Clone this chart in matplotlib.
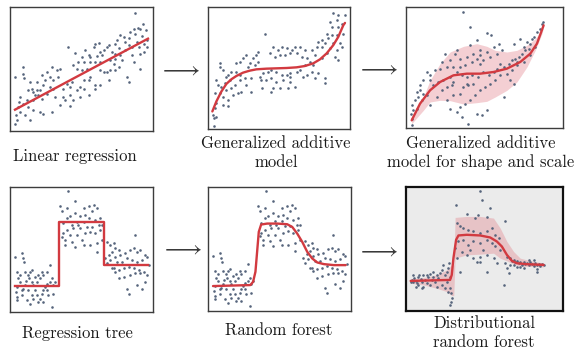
import matplotlib
matplotlib.use("Agg")
import matplotlib.pyplot as plt

plt.rcParams['mathtext.fontset'] = 'cm'
plt.rcParams['font.family'] = ['cmr10', 'DejaVu Serif']
plt.rcParams['axes.unicode_minus'] = False

# ---------------- Panel 1: linear regression ----------------
lin_x = [375,398,382,370,390,408,360,375,330,340,355,395,410,320,345,380,400,315,355,385,410,325,295,265,255,290,250,280,270,305,
         315,225,235,240,260,275,330,365,390,402,195,215,240,220,255,270,300,315,370,173,205,190,200,215,230,270,280,290,300,315,
         325,390,350,355,295,240,253,270,255,235,220,210,185,170,180,160,150,140,125,145,130,120,110,95,105,100,80,60,38,40,
         42,15,65,55,70,80,90,85,95,110,130,135,160,165,180,190,150,125,100,70,90,50,30,28,40,55,70,25,18,22,
         15,60,30,45,210,235,180,200,220,310,335,120,75,345,365]
lin_y = [354,320,310,307,307,304,297,292,287,282,280,284,272,272,267,267,262,262,257,252,252,250,257,264,262,252,252,244,237,237,
         232,242,227,222,224,227,227,227,232,237,234,222,207,207,207,207,212,217,207,252,207,197,187,182,187,182,177,177,182,182,
         192,187,162,147,152,162,137,137,127,152,152,132,147,142,132,127,187,182,192,162,152,162,177,167,152,137,147,147,192,172,
         160,162,127,122,117,122,122,107,97,112,127,102,102,92,107,92,77,57,52,62,57,92,102,87,82,72,92,72,47,32,
         22,32,57,47,102,107,74,122,127,202,212,132,107,242,252]
lin_fit_x = [15, 413]
lin_fit_y = [64, 277]

# ---------------- Panel 2: generalized additive model ----------------
gam_x = [375,390,410,385,365,400,390,370,355,370,385,405,360,340,330,350,375,395,340,325,365,385,400,355,380,390,340,320,310,290,
         275,260,250,235,220,210,195,185,170,200,215,230,245,265,280,295,305,315,290,275,265,245,235,220,205,190,180,165,155,160,
         175,190,205,225,245,260,240,215,195,190,163,245,295,310,330,350,350,320,285,150,145,135,125,115,105,95,85,120,140,150,
         130,110,95,85,70,60,65,53,45,35,35,25,30,40,50,55,70,80,90,100,75,60,45,35,20,25,45,60,20,15,
         17,23,17,95,115,130]
gam_y = [350,343,343,328,323,318,308,308,288,283,283,288,273,268,263,258,260,258,248,248,243,238,248,228,218,208,213,223,238,238,
         248,248,238,243,248,238,248,228,288,218,223,223,228,228,218,213,203,193,193,178,173,168,163,163,173,178,173,168,158,148,
         148,153,143,148,143,128,123,123,123,113,123,158,163,173,168,153,138,153,158,233,223,213,198,223,213,203,198,188,193,203,
         153,153,163,173,173,163,148,158,178,198,188,148,133,128,138,118,123,133,108,113,103,88,98,108,108,78,73,70,63,43,
         33,36,10,148,133,113]
gam_fit_x = [13,25,40,55,70,85,105,125,145,175,205,235,265,290,315,335,355,375,390,405,410]
gam_fit_y = [53,83,113,136,150,160,170,176,180,182,183,184,186,190,198,210,228,253,278,313,320]

# ---------------- Panel 3: GAMLSS ----------------
gls_x = [172,242,254,192,212,192,152,147,117,107,132,162,182,202,222,242,262,277,287,272,252,232,222,212,197,177,162,142,122,102,
         87,72,62,52,72,42,32,42,52,62,37,27,17,22,14,17,19,32,47,82,97,112,132,152,167,182,197,217,232,247,
         262,272,292,307,317,327,337,347,352,357,367,362,372,377,382,392,400,407,410,387,372,352,332,317,302,282,267,252,237,222,
         207,192,177,162,152,132,122,142,162,172,187,202,122,107,137,92,72,292,242,227,212,187,167,322,312,282,322,342,
         332,222,182,142]
gls_y = [348,286,278,303,263,248,233,223,223,198,203,208,213,223,233,228,243,253,233,223,213,203,218,208,198,188,183,183,183,178,
         173,158,168,143,143,128,108,113,103,98,93,83,68,53,43,28,8,58,83,128,138,143,153,168,158,153,158,153,168,158,
         168,178,183,193,203,208,213,223,243,233,238,258,253,268,273,288,298,313,318,243,218,198,188,173,163,158,143,133,123,113,
         98,83,73,63,48,58,83,98,103,123,128,133,123,113,128,93,68,93,53,38,43,13,33,133,143,193,253,268,
         198,193,133,138]
gls_fit_x = [17,42,72,102,142,182,222,262,302,342,372,392,412]
gls_fit_y = [23,73,113,138,158,163,163,168,178,198,223,253,308]
gls_band_x = [17,52,72,102,132,172,212,242,267,302,332,362,387,407,412]
gls_band_hi = [33,93,143,193,228,245,253,245,233,228,233,248,268,293,303]
gls_band_lo = [13,53,78,83,82,72,76,80,93,113,138,183,233,283,303]

# ---------------- Panels 4/5: step data ----------------
stp_x = [15,35,38,42,20,25,30,20,18,22,20,35,40,45,48,55,60,65,58,65,70,75,80,70,50,60,85,90,95,100,
         105,110,120,125,130,135,130,125,115,100,90,85,80,100,110,120,95,75,45,30,35,55,110,65,
         175,195,150,155,170,220,235,250,260,245,225,210,195,180,170,160,185,200,220,235,255,265,270,230,210,190,170,160,155,165,
         180,200,215,225,240,255,270,275,260,240,220,195,185,165,260,275,205,245,
         375,290,300,310,315,325,305,295,285,300,315,330,345,360,370,380,390,405,410,395,380,365,350,335,320,290,310,325,340,355,
         370,385,400,410,390,375,360,325,350,355,380,395,405,315,305,415,340]
stp_y = [165,175,160,148,120,100,90,75,60,45,35,50,70,80,92,110,120,125,100,90,80,65,50,40,35,25,30,40,55,65,
         75,85,90,100,80,90,55,15,50,30,100,110,90,110,120,140,120,105,120,110,65,65,65,50,
         360,330,315,300,310,310,315,320,310,300,290,285,295,285,280,265,260,270,270,280,275,260,280,255,250,250,245,235,225,215,
         230,230,215,235,240,235,245,215,205,200,200,195,210,200,180,260,260,255,
         230,210,200,205,190,185,180,170,160,155,165,170,175,185,190,180,185,170,165,155,150,155,160,150,150,145,130,125,130,135,
         130,125,120,110,115,115,110,100,70,55,80,70,90,120,130,140,105]
tree_x = [15,148,148,280,280,413]
tree_y = [77,77,268,268,140,140]
rf_x = [15,127,135,142,147,152,159,177,207,237,252,267,282,297,312,327,347,377,412]
rf_y = [75,78,88,118,178,238,260,263,263,261,253,233,208,178,158,146,141,138,138]

# ---------------- Panel 6: distributional random forest ----------------
drf_x = [222,227,150,252,182,217,207,242,297,152,162,172,187,202,222,242,257,267,277,157,172,187,202,222,242,257,267,282,167,182,
         202,212,222,242,262,272,162,242,292,302,307,222,152,147,192,232,
         302,312,317,322,327,332,337,342,347,352,357,362,367,372,377,382,387,392,397,402,407,412,322,342,367,382,392,332,392,297,
         312,352,
         14,18,22,25,30,34,37,40,44,48,52,57,62,67,72,77,82,87,92,97,102,107,112,117,122,127,130,132,122,107,
         92,72,52,37,20,132,134,137,132,135,127,117,82,62,47,30]
drf_y = [358,333,318,308,290,288,278,280,268,263,253,248,243,238,233,238,248,228,218,208,213,198,208,203,213,203,193,183,178,168,
         158,148,163,168,158,143,118,118,78,128,113,148,158,188,183,183,
         163,158,150,153,146,150,143,148,138,146,140,143,138,146,140,136,143,138,140,136,140,138,138,133,153,153,126,133,118,143,
         138,128,
         88,93,86,98,90,83,103,108,96,88,108,93,83,103,110,93,103,88,108,98,113,123,138,108,118,128,143,103,88,78,
         73,78,73,78,108,68,53,38,18,28,58,68,118,108,68,73]
drf_fit_x = [14,132,137,142,150,157,182,222,252,272,287,302,317,332,362,412]
drf_fit_y = [90,93,108,158,213,226,228,226,220,208,193,168,150,143,140,138]
drf_band_x = [14,52,92,122,137,143,147,182,222,262,282,302,322,342,382,412]
drf_band_hi = [96,100,108,123,138,138,280,283,283,278,248,208,178,158,148,144]
drf_band_lo = [83,78,68,58,46,46,158,168,170,173,158,150,140,134,133,132]

labels = ["Linear regression", "Generalized additive\nmodel",
          "Generalized additive\nmodel for shape and scale",
          "Regression tree", "Random forest", "Distributional\nrandom forest"]

# ---------------- drawing ----------------
W, H = 574, 350
fig = plt.figure(figsize=(W / 100, H / 100), dpi=100)

PT_COLOR = '#56647c'
LINE_COLOR = '#d23a40'
BAND_COLOR = '#e3838c'

def make_ax(l, t, r, b, xmax, ymax, special=False):
    ax = fig.add_axes([l / W, 1 - b / H, (r - l) / W, (b - t) / H])
    ax.set_xlim(0, xmax)
    ax.set_ylim(0, ymax)
    ax.set_xticks([])
    ax.set_yticks([])
    for s in ax.spines.values():
        if special:
            s.set_color('#111111')
            s.set_linewidth(1.6)
        else:
            s.set_color('#3c3c3c')
            s.set_linewidth(1.0)
    if special:
        ax.set_facecolor('#ebebeb')
    return ax

def scatter(ax, x, y):
    ax.scatter(x, y, s=3.5, color=PT_COLOR, linewidths=0, zorder=3)

LW = 1.7

ax1 = make_ax(10, 7, 153, 131, 428, 372)
scatter(ax1, lin_x, lin_y)
ax1.plot(lin_fit_x, lin_fit_y, color=LINE_COLOR, lw=LW, zorder=4)

ax2 = make_ax(208, 7, 350, 129, 425, 368)
scatter(ax2, gam_x, gam_y)
ax2.plot(gam_fit_x, gam_fit_y, color=LINE_COLOR, lw=LW, zorder=4, solid_capstyle='round')

ax3 = make_ax(406, 7, 563, 128, 470, 363)
ax3.fill_between(gls_band_x, gls_band_lo, gls_band_hi, color=BAND_COLOR, alpha=0.38, lw=0, zorder=1)
scatter(ax3, gls_x, gls_y)
ax3.plot(gls_fit_x, gls_fit_y, color=LINE_COLOR, lw=LW, zorder=4, solid_capstyle='round')

ax4 = make_ax(10, 187, 153, 312, 428, 373)
scatter(ax4, stp_x, stp_y)
ax4.plot(tree_x, tree_y, color=LINE_COLOR, lw=LW, zorder=4)

ax5 = make_ax(208, 187, 351, 311, 428, 373)
scatter(ax5, stp_x, stp_y)
ax5.plot(rf_x, rf_y, color=LINE_COLOR, lw=LW, zorder=4, solid_capstyle='round')

ax6 = make_ax(406, 187, 563, 311, 470, 371, special=True)
ax6.fill_between(drf_band_x, drf_band_lo, drf_band_hi, color=BAND_COLOR, alpha=0.38, lw=0, zorder=1)
scatter(ax6, drf_x, drf_y)
ax6.plot(drf_fit_x, drf_fit_y, color=LINE_COLOR, lw=LW, zorder=4, solid_capstyle='round')

# labels
FS = 12
def label(x, y, s):
    fig.text(x / W, 1 - y / H, s, ha='center', va='center', fontsize=FS,
             linespacing=1.3, color='#1a1a1a')

label(75, 156, labels[0])
label(276, 153, labels[1])
label(481, 153, labels[2])
label(77, 333, labels[3])
label(279, 330, labels[4])
label(484, 333, labels[5])

# arrows
for (x, y) in [(179, 69), (377, 68), (181, 248), (377, 250)]:
    fig.text(x / W, 1 - y / H, r'$\longrightarrow$', ha='center', va='center',
             fontsize=17, color='#3a3a3a')

fig.savefig('out.png', dpi=100, facecolor='white')
